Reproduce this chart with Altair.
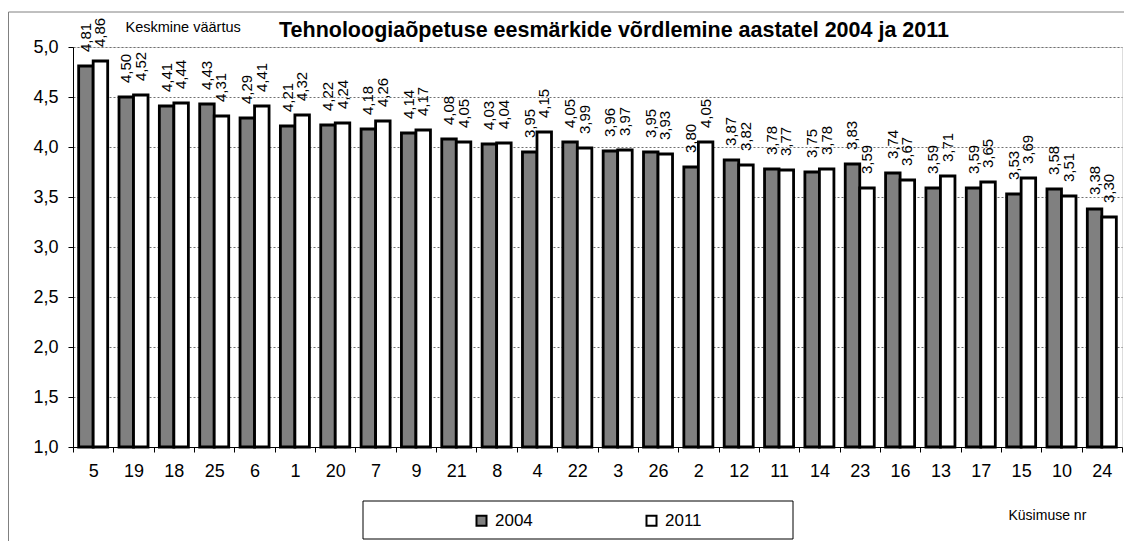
import altair as alt
import pandas as pd

questions = ["5", "19", "18", "25", "6", "1", "20", "7", "9", "21", "8", "4", "22",
             "3", "26", "2", "12", "11", "14", "23", "16", "13", "17", "15", "10", "24"]
v2004 = [4.81, 4.50, 4.41, 4.43, 4.29, 4.21, 4.22, 4.18, 4.14, 4.08, 4.03, 3.95, 4.05,
         3.96, 3.95, 3.80, 3.87, 3.78, 3.75, 3.83, 3.74, 3.59, 3.59, 3.53, 3.58, 3.38]
v2011 = [4.86, 4.52, 4.44, 4.31, 4.41, 4.32, 4.24, 4.26, 4.17, 4.05, 4.04, 4.15, 3.99,
         3.97, 3.93, 4.05, 3.82, 3.77, 3.78, 3.59, 3.67, 3.71, 3.65, 3.69, 3.51, 3.30]
years = ["2004", "2011"]
y_ticks = [1.0, 1.5, 2.0, 2.5, 3.0, 3.5, 4.0, 4.5, 5.0]

title_text = "Tehnoloogiaõpetuse eesmärkide võrdlemine aastatel 2004 ja 2011"
y_title = "Keskmine väärtus"
x_title = "Küsimuse nr"

rows = []
for q, a, b in zip(questions, v2004, v2011):
    rows.append({"question": q, "year": years[0], "value": a})
    rows.append({"question": q, "year": years[1], "value": b})
df = pd.DataFrame(rows)

FONT = "Liberation Sans"
W, H = 1049, 400

x_enc = alt.X("question:N", sort=questions,
              scale=alt.Scale(paddingInner=0, paddingOuter=0),
              axis=alt.Axis(title=x_title, labelAngle=0, labelFontSize=18, labelColor="black",
                            labelPadding=10, tickBand="extent", tickSize=5, tickColor="black",
                            domainColor="black", titleFontSize=14, titleFontWeight="normal",
                            titleColor="black", titleAlign="left", titleBaseline="alphabetic",
                            titleX=935, titleY=72, labelFont=FONT, titleFont=FONT))
xoff_enc = alt.XOffset("year:N", scale=alt.Scale(paddingOuter=0.39, paddingInner=0))
y_enc = alt.Y("value:Q",
              scale=alt.Scale(domain=[1, 5], zero=False, nice=False),
              axis=alt.Axis(title=y_title, values=y_ticks,
                            labelExpr="replace(format(datum.value, '.1f'), '.', ',')",
                            labelFontSize=18, labelColor="black", labelPadding=10,
                            tickSize=5, tickColor="black", domainColor="black",
                            grid=True, gridColor="#707070", gridDash=[2, 2], gridWidth=1,
                            titleAngle=0, titleAlign="left", titleBaseline="alphabetic",
                            titleX=52, titleY=-16, titleFontSize=14.5, titleFontWeight="normal",
                            titleColor="black", labelFont=FONT, titleFont=FONT))

base = alt.Chart(df)

bars = base.mark_bar(stroke="black", strokeWidth=2.8).encode(
    x=x_enc, xOffset=xoff_enc, y=y_enc, y2=alt.datum(1),
    fill=alt.Fill("year:N", scale=alt.Scale(domain=years, range=["#808080", "white"]),
                  legend=alt.Legend(title=None, orient="none", legendX=400, legendY=465,
                                    direction="horizontal", columns=2, columnPadding=109,
                                    symbolType="square", symbolSize=100,
                                    symbolStrokeColor="black", symbolStrokeWidth=2,
                                    labelFontSize=17, labelColor="black", labelOffset=5,
                                    labelFont=FONT)),
)

labels = base.transform_calculate(
    label="replace(format(datum.value, '.2f'), '.', ',')"
).mark_text(angle=270, align="left", baseline="middle", dx=14, fontSize=15,
            color="black", font=FONT).encode(
    x=x_enc, xOffset=xoff_enc, y=y_enc, text="label:N"
)

one = pd.DataFrame({"k": [0], "t": [title_text]})
outer_frame = alt.Chart(one).mark_rect(fill="transparent", stroke="#808080", strokeWidth=1,
                                       clip=False).encode(
    x=alt.value(-64.5), x2=alt.value(1200), y=alt.value(-35), y2=alt.value(700)
)
legend_box = alt.Chart(one).mark_rect(fill="white", stroke="black", strokeWidth=1,
                                      clip=False).encode(
    x=alt.value(290), x2=alt.value(720), y=alt.value(454), y2=alt.value(492)
)
title_mark = alt.Chart(one).mark_text(fontSize=21.5, fontWeight="bold", font=FONT, color="black",
                                      align="center", baseline="alphabetic", clip=False).encode(
    x=alt.value(541), y=alt.value(-10), text="t:N"
)

chart = alt.layer(outer_frame, legend_box, bars, labels, title_mark).properties(
    width=W, height=H,
    autosize=alt.AutoSizeParams(type="none"),
    padding={"left": 65, "top": 39, "right": 2, "bottom": 94},
).configure_view(stroke="#808080", strokeWidth=1).configure(font=FONT)

chart.save("out.html", embed_options={"renderer": "svg", "actions": False})
